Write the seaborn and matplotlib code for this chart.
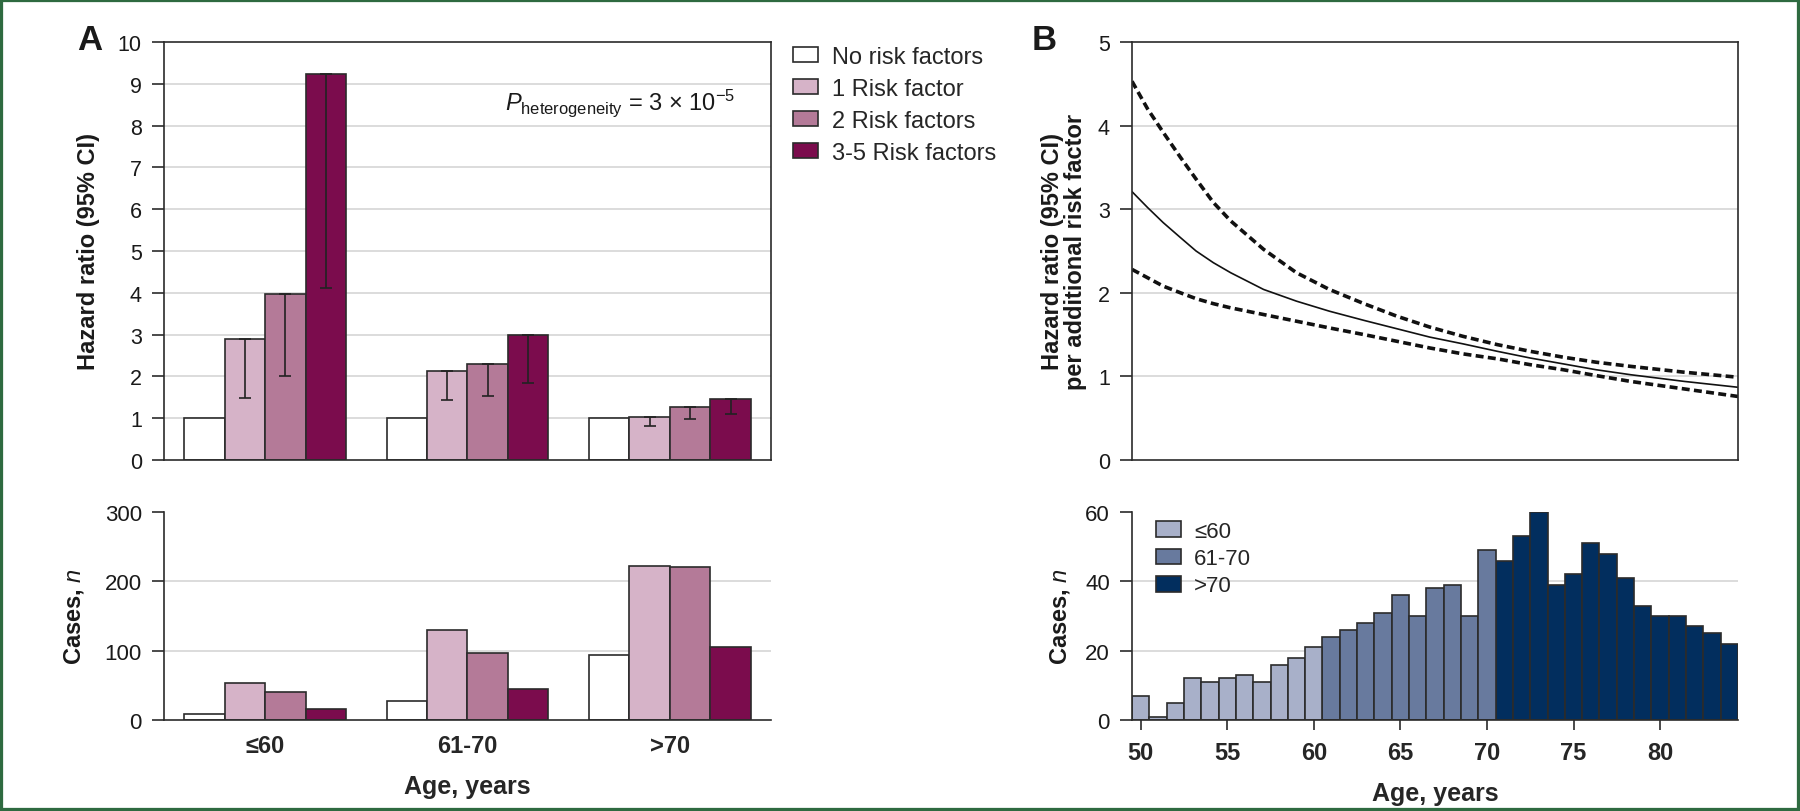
import numpy as np
import pandas as pd
import seaborn as sns
import matplotlib.pyplot as plt
from matplotlib.patches import Patch, Rectangle

# ---- data: panel A (hazard ratios and cases by age group) ----
age_groups = ["≤60", "61-70", ">70"]
risk_levels = ["No risk factors", "1 Risk factor", "2 Risk factors", "3-5 Risk factors"]
hr_none = [1.0, 1.0, 1.0]
hr_one = [2.90, 2.14, 1.02]
hr_two = [3.98, 2.30, 1.26]
hr_three5 = [9.23, 2.98, 1.46]
lo_one = [1.48, 1.44, 0.81]
lo_two = [2.00, 1.52, 0.98]
lo_three5 = [4.11, 1.85, 1.11]
cases_none = [9, 28, 94]
cases_one = [54, 130, 222]
cases_two = [41, 97, 220]
cases_three5 = [16, 44, 106]

# ---- data: panel B (HR per additional risk factor by age) ----
curve_age = [49.5, 50.4, 51.3, 52.3, 53.2, 54.2, 55.2, 57.1, 59.0, 60.9, 62.9, 64.8, 66.7, 68.6, 70.6, 72.5, 74.4, 76.3, 78.3, 81.4, 84.5]
hr_mid = [3.21, 3.02, 2.84, 2.66, 2.50, 2.36, 2.24, 2.04, 1.90, 1.78, 1.67, 1.57, 1.47, 1.39, 1.30, 1.22, 1.15, 1.08, 1.02, 0.94, 0.87]
hr_upper = [4.53, 4.20, 3.92, 3.62, 3.36, 3.08, 2.86, 2.52, 2.24, 2.04, 1.87, 1.72, 1.59, 1.48, 1.38, 1.30, 1.23, 1.17, 1.12, 1.05, 0.99]
hr_lower = [2.28, 2.18, 2.08, 2.00, 1.93, 1.87, 1.82, 1.74, 1.66, 1.58, 1.50, 1.42, 1.34, 1.27, 1.21, 1.14, 1.08, 1.01, 0.94, 0.85, 0.76]

hist_age = list(range(50, 85))
hist_cases = [7, 1, 5, 12, 11, 12, 13, 11, 16, 18, 21,
              24, 26, 28, 31, 36, 30, 38, 39, 30, 49,
              46, 53, 60, 39, 42, 51, 48, 41, 33, 30, 30, 27, 25, 22]
hist_groups = ["≤60", "61-70", ">70"]

risk_palette = dict(zip(risk_levels, ["#ffffff", "#d6b3c8", "#b47a98", "#7b0c4d"]))
age_palette = dict(zip(hist_groups, ["#a8b0c9", "#687a9e", "#022e5e"]))
EDGE = "#2b2b2b"
GRID = "#d9d9d9"

sns.set_theme(style="white")
plt.rcParams["font.family"] = ["Liberation Sans", "DejaVu Sans"]
plt.rcParams["mathtext.fontset"] = "custom"
plt.rcParams["mathtext.rm"] = "Liberation Sans"
plt.rcParams["mathtext.it"] = "Liberation Sans:italic"
NARROW = ["Liberation Sans Narrow", "Liberation Sans", "DejaVu Sans"]

W, H = 1800, 812
fig = plt.figure(figsize=(18, 8.12), dpi=100)
axA = fig.add_axes([164 / W, 1 - 461 / H, 607 / W, 418 / H])
axAb = fig.add_axes([164 / W, 1 - 721 / H, 607 / W, 208 / H])
axB = fig.add_axes([1132 / W, 1 - 461 / H, 606 / W, 418 / H])
axBb = fig.add_axes([1132 / W, 1 - 721 / H, 606 / W, 208 / H])


def style_axis(ax, grid_vals, box=True):
    for side in ["left", "bottom", "top", "right"]:
        ax.spines[side].set_color(EDGE)
        ax.spines[side].set_linewidth(1.2)
    if not box:
        ax.spines["top"].set_visible(False)
        ax.spines["right"].set_visible(False)
    for v in grid_vals:
        ax.axhline(v, color=GRID, lw=1.3, zorder=0)
    ax.tick_params(axis="y", left=True, length=9, width=1.2, color=EDGE, pad=7,
                   labelsize=15.5, labelcolor="#1a1a1a")
    ax.set_axisbelow(True)


# ---- panel A top: hazard ratios ----
df_hr = pd.DataFrame({
    "age": age_groups * 4,
    "risk": np.repeat(risk_levels, 3),
    "hr": hr_none + hr_one + hr_two + hr_three5,
})
sns.barplot(data=df_hr, x="age", y="hr", hue="risk", order=age_groups, hue_order=risk_levels,
            palette=risk_palette, saturation=1, errorbar=None, width=0.8,
            edgecolor=EDGE, linewidth=1.2, legend=False, ax=axA)
lows = [None, lo_one, lo_two, lo_three5]
for cont, lo in zip(axA.containers, lows):
    if lo is None:
        continue
    for bar, low in zip(cont, lo):
        xc = bar.get_x() + bar.get_width() / 2
        top = bar.get_height()
        axA.errorbar(xc, top, yerr=[[top - low], [0]], fmt="none", ecolor="#222222",
                     elinewidth=1.2, capsize=4, capthick=1.2, zorder=5)
axA.set_ylim(0, 10)
axA.set_xlim(-0.5, 2.5)
axA.set_yticks(range(0, 11))
axA.set_xticks([])
axA.set_xlabel("")
axA.set_ylabel("Hazard ratio (95% CI)", fontsize=17, fontweight="bold", color="#1a1a1a")
axA.yaxis.set_label_coords(-0.105, 0.5)
style_axis(axA, range(1, 10))
axA.text(0.941, 0.840, r"$P_{\mathrm{heterogeneity}}$ = 3 × 10$^{-5}$", transform=axA.transAxes,
         ha="right", va="baseline", fontsize=17, color="#1a1a1a")

# ---- panel A bottom: cases ----
df_cases = pd.DataFrame({
    "age": age_groups * 4,
    "risk": np.repeat(risk_levels, 3),
    "n": cases_none + cases_one + cases_two + cases_three5,
})
sns.barplot(data=df_cases, x="age", y="n", hue="risk", order=age_groups, hue_order=risk_levels,
            palette=risk_palette, saturation=1, errorbar=None, width=0.8,
            edgecolor=EDGE, linewidth=1.2, legend=False, ax=axAb)
axAb.set_ylim(0, 300)
axAb.set_xlim(-0.5, 2.5)
axAb.set_yticks([0, 100, 200, 300])
style_axis(axAb, [100, 200], box=False)
axAb.tick_params(axis="y", labelsize=16)
axAb.tick_params(axis="x", bottom=False, length=0, pad=10)
for lab in axAb.get_xticklabels():
    lab.set_fontfamily(NARROW)
    lab.set_fontweight("bold")
    lab.set_fontsize(17)
axAb.set_ylabel("Cases, $\\mathit{n}$", fontsize=17, fontweight="bold", color="#1a1a1a")
axAb.yaxis.set_label_coords(-0.128, 0.5)
axAb.set_xlabel("Age, years", fontsize=18, fontweight="bold", family=NARROW, labelpad=12)

fig.legend(handles=[Patch(facecolor=risk_palette[r], edgecolor=EDGE, lw=1.2) for r in risk_levels],
           labels=risk_levels, loc="upper left", bbox_to_anchor=(793 / W, 1 - 47 / H),
           frameon=False, fontsize=17, handlelength=1.05, handleheight=0.62,
           handletextpad=0.6, labelspacing=0.42, borderpad=0, borderaxespad=0)

# ---- panel B top: HR per additional risk factor ----
sns.lineplot(x=curve_age, y=hr_mid, color="#111111", lw=1.2, ax=axB)
sns.lineplot(x=curve_age, y=hr_upper, color="#111111", lw=2.6, linestyle=(0, (2.2, 1.2)), ax=axB)
sns.lineplot(x=curve_age, y=hr_lower, color="#111111", lw=2.6, linestyle=(0, (2.2, 1.2)), ax=axB)
axB.set_xlim(49.5, 84.5)
axB.set_ylim(0, 5)
axB.set_yticks(range(0, 6))
axB.set_xticks([])
axB.set_ylabel("Hazard ratio (95% CI)\nper additional risk factor", fontsize=17,
               fontweight="bold", color="#1a1a1a", linespacing=1.0)
axB.yaxis.set_label_coords(-0.074, 0.5)
style_axis(axB, range(1, 5))

# ---- panel B bottom: case histogram ----
df_hist = pd.DataFrame({"age": hist_age, "n": hist_cases})
df_hist["group"] = pd.cut(df_hist["age"], [0, 60, 70, 200], labels=hist_groups)
sns.histplot(data=df_hist, x="age", weights="n", hue="group", hue_order=hist_groups,
             palette=age_palette, discrete=True, shrink=1, alpha=1, multiple="layer",
             edgecolor=EDGE, linewidth=1.2, legend=False, ax=axBb)
axBb.set_xlim(49.5, 84.5)
axBb.set_ylim(0, 60)
axBb.set_yticks([0, 20, 40, 60])
axBb.set_xticks([50, 55, 60, 65, 70, 75, 80])
style_axis(axBb, [20, 40], box=False)
axBb.tick_params(axis="y", labelsize=16)
axBb.tick_params(axis="x", bottom=True, length=7, width=1.2, color=EDGE, pad=8)
for lab in axBb.get_xticklabels():
    lab.set_fontfamily(NARROW)
    lab.set_fontweight("bold")
    lab.set_fontsize(17)
axBb.set_ylabel("Cases, $\\mathit{n}$", fontsize=17, fontweight="bold", color="#1a1a1a")
axBb.yaxis.set_label_coords(-0.099, 0.5)
axBb.set_xlabel("Age, years", fontsize=18, fontweight="bold", family=NARROW, labelpad=12)
axBb.legend(handles=[Patch(facecolor=age_palette[g], edgecolor=EDGE, lw=1.2) for g in hist_groups],
            labels=hist_groups, loc="upper left", bbox_to_anchor=(1156 / W, 1 - 522 / H),
            bbox_transform=fig.transFigure, frameon=False, fontsize=16, handlelength=1.12,
            handleheight=0.72, handletextpad=0.6, labelspacing=0.28, borderpad=0, borderaxespad=0)

# panel letters and frame
fig.text(90 / W, 1 - 41 / H, "A", fontsize=25, fontweight="bold", ha="center", va="center", color="#1a1a1a")
fig.text(1044 / W, 1 - 41 / H, "B", fontsize=25, fontweight="bold", ha="center", va="center", color="#1a1a1a")
fig.add_artist(Rectangle((0, 0), 1, 1, transform=fig.transFigure, fill=False,
                         edgecolor="#2e6a40", lw=4.5))

fig.savefig("out.png", dpi=100)
